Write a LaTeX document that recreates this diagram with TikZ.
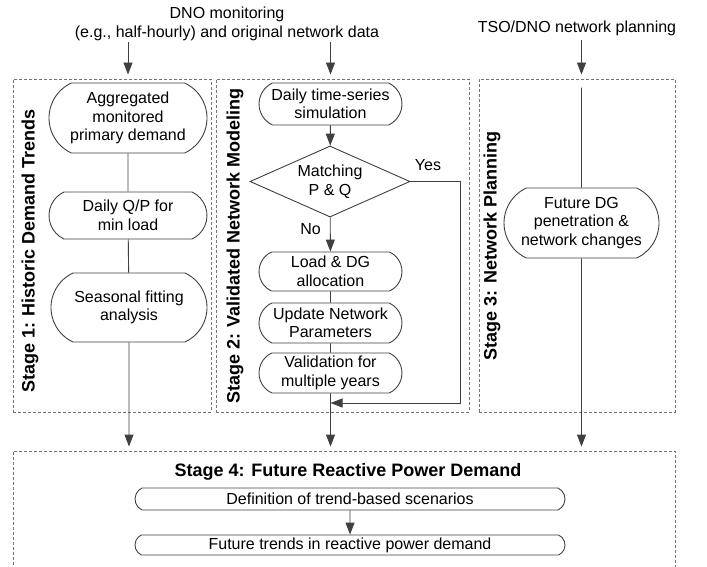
\documentclass[tikz,border=0pt]{standalone}
\usepackage{fontspec}
\setmainfont{Liberation Sans}
\usetikzlibrary{shapes.geometric,shapes.misc,arrows.meta}

\begin{document}
\begin{tikzpicture}[x=1pt, y=-1pt]
\tikzstyle{proc}=[rounded rectangle, rounded rectangle arc length=130, draw=black!75, line width=0.9pt, align=center, inner sep=0pt, font=\fontsize{16}{18.5}\selectfont]
\tikzstyle{stagebox}=[draw=black!55, line width=0.9pt, dash pattern=on 3pt off 2pt, inner sep=0pt]
\tikzstyle{flow}=[draw=black!75, line width=0.9pt]
\tikzstyle{arr}=[flow, -{Triangle[length=12pt, width=9pt]}]
\tikzstyle{lbl}=[font=\bfseries\fontsize{18}{20}\selectfont, inner sep=0pt]
\tikzstyle{txt}=[align=center, inner sep=1pt, font=\fontsize{16}{19}\selectfont]
    \useasboundingbox (0,0) rectangle (707,567);
    % stage frames
    \node [stagebox, minimum width=198, minimum height=333] (s1) at (112,245.5) {};
    \node [stagebox, minimum width=253, minimum height=333] (s2) at (342.5,245.5) {};
    \node [stagebox, minimum width=196, minimum height=333] (s3) at (577,245.5) {};
    \node [stagebox, minimum width=662, minimum height=130] (s4) at (344,516) {};
    \node [lbl, rotate=90] (l1) at (30,251) {Stage 1: Historic Demand Trends};
    \node [lbl, rotate=90] (l2) at (235,246) {Stage 2: Validated Network Modeling};
    \node [lbl, rotate=90] (l3) at (492,246) {Stage 3: Network Planning};
    \node [lbl] (l4) at (348,472) {Stage 4: Future Reactive Power Demand};
    % inputs
    \node [txt] (dno) at (227,24) {DNO monitoring\\(e.g., half-hourly) and original network data};
    \node [txt] (tso) at (577,28) {TSO/DNO network planning};
    % stage 1
    \node [proc, minimum width=158, minimum height=70] (agg) at (128,118) {Aggregated\\monitored\\primary demand};
    \node [proc, minimum width=158, minimum height=47] (qp) at (128,215.5) {Daily Q/P for\\min load};
    \node [proc, minimum width=156, minimum height=69] (fit) at (129,307.5) {Seasonal fitting\\analysis};
    % stage 2
    \node [proc, minimum width=143, minimum height=42] (sim) at (330.5,104) {Daily time-series\\simulation};
    \node [diamond, aspect=2.25, draw=black!75, line width=0.9pt, inner sep=0pt, align=center, minimum width=160, minimum height=71, font=\fontsize{16}{18.5}\selectfont] (match) at (330,181.5) {Matching\\P \& Q};
    \node [proc, minimum width=143, minimum height=39] (load) at (330.5,271.5) {Load \& DG\\allocation};
    \node [proc, minimum width=143, minimum height=40] (upd) at (330.5,323) {Update Network\\Parameters};
    \node [proc, minimum width=143, minimum height=40] (valid) at (330.5,373) {Validation for\\multiple years};
    \coordinate (yes) at (460,403);
    % stage 3
    \node [proc, minimum width=155, minimum height=70] (fut) at (581.5,223) {Future DG\\penetration \&\\network changes};
    % stage 4
    \node [proc, minimum width=430, minimum height=22] (defn) at (350,499) {Definition of trend-based scenarios};
    \node [proc, minimum width=430, minimum height=20] (trend) at (350,545) {Future trends in reactive power demand};

    \draw [arr, shorten >=4pt] (dno.south -| agg) -- (agg |- s1.north);
    \draw [arr, shorten >=4pt] (dno.south -| sim) -- (sim |- s2.north);
    \draw [arr, shorten <=3pt, shorten >=4pt] (tso.south -| fut) -- (fut |- s3.north);
    \draw [flow] (agg) -- (qp);
    \draw [flow] (qp) -- (fit);
    \draw [arr, shorten >=4pt] (fit) -- (fit |- s4.north);
    \draw [arr] (sim) -- (match);
    \draw [arr] (match) -- node [txt, left=8pt, pos=0.35] (no) {No} (load);
    \draw [flow] (load) -- (upd);
    \draw [flow] (upd) -- (valid);
    \draw [arr, shorten >=4pt] (valid) -- (valid |- s4.north);
    \draw [arr] (match.east) -| (yes) -- (valid |- yes);
    \node [txt] (yeslbl) at (428,165) {Yes};
    \draw [flow, shorten <=9pt] (fut |- s3.north) -- (fut);
    \draw [arr, shorten >=4pt] (fut) -- (fut |- s4.north);
    \draw [arr] (defn) -- (trend);
\end{tikzpicture}
\end{document}
